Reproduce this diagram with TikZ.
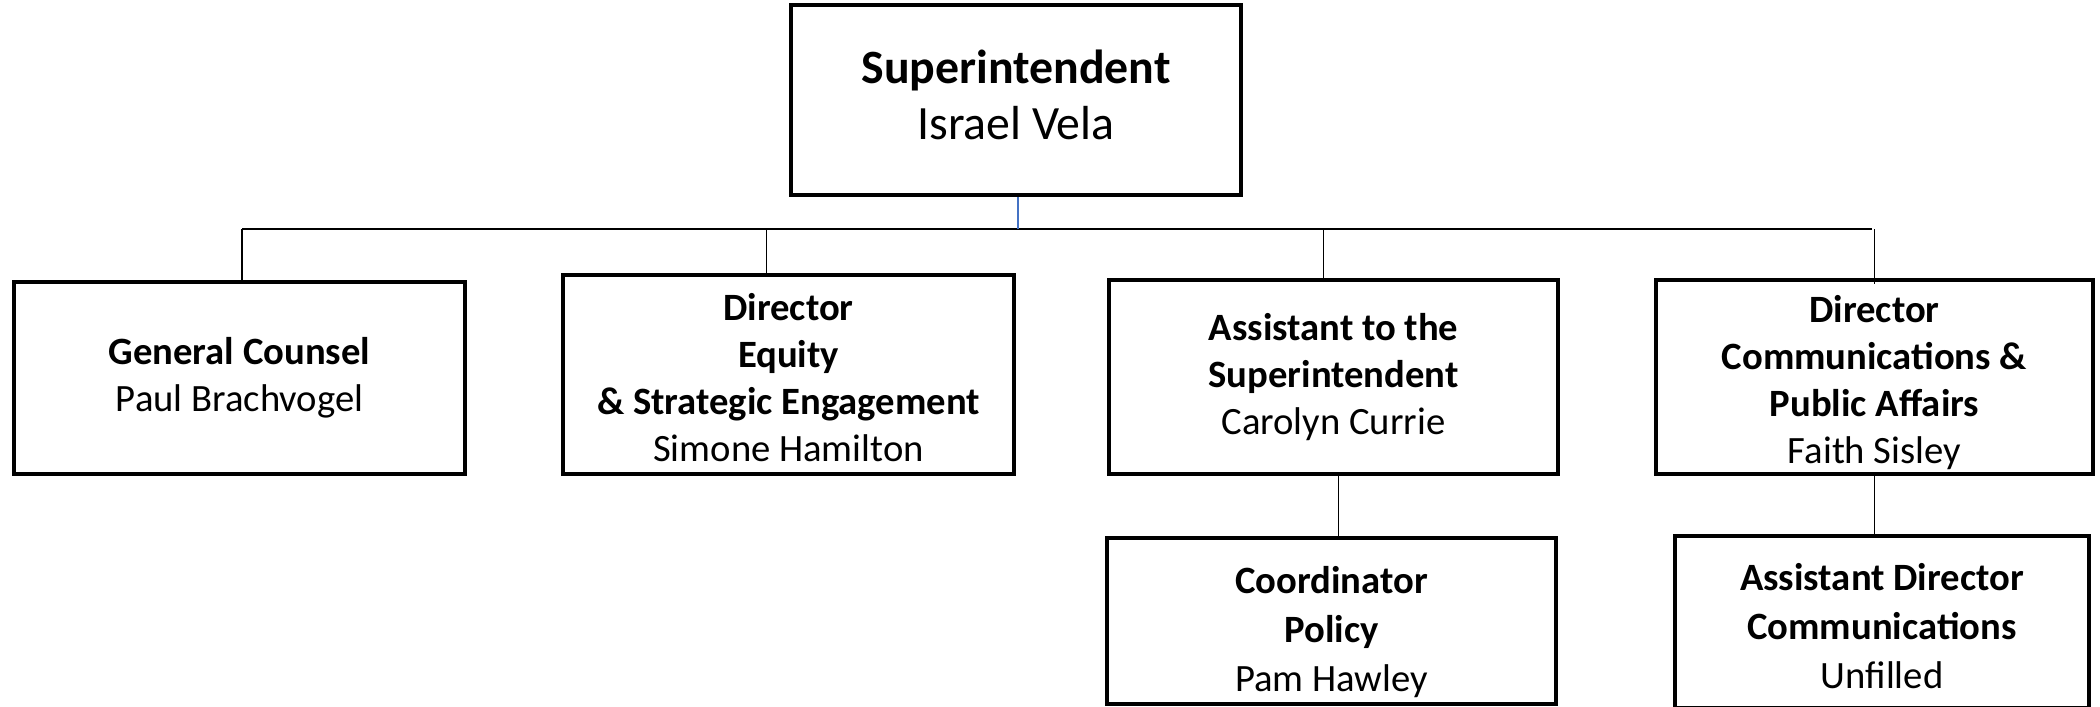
\documentclass[tikz,border=0pt]{standalone}
\usepackage{fontspec}
\setmainfont{Carlito}
\usepackage{tikz}
\definecolor{linkblue}{RGB}{68,114,196}
\newcommand{\padtop}[1]{\rule{0pt}{#1}}
\newcommand{\padbot}[1]{\rule[-#1]{0pt}{0pt}}
\tikzset{
	post/.style= {
		shape=rectangle, draw,
		line width=1.4pt,
		inner sep=0, align=center,
		font=\fontsize{11}{13.4}\selectfont
	},
	link/.style= {
		draw, line width=0.45pt
	}
}

\begin{document}
\begin{tikzpicture}
\useasboundingbox (0,0) rectangle (21,-7.07);

% top box
\node[post, minimum width=4.50cm, minimum height=1.90cm,
	font=\fontsize{13.6}{16.2}\selectfont] (sup) at (10.16,-1.00)
	{\textbf{Superintendent}\\Israel Vela\padbot{3pt}};

% second row
\node[post, minimum width=4.51cm, minimum height=1.92cm] (gc) at (2.395,-3.78)
	{\textbf{General Counsel}\\Paul Brachvogel};
\node[post, minimum width=4.51cm, minimum height=1.99cm] (eq) at (7.885,-3.745)
	{\padtop{9.5pt}\textbf{Director}\\\textbf{Equity}\\\textbf{\& Strategic Engagement}\\Simone Hamilton};
\node[post, minimum width=4.49cm, minimum height=1.94cm] (ats) at (13.335,-3.77)
	{\textbf{Assistant to the}\\\textbf{Superintendent}\\Carolyn Currie};
\node[post, minimum width=4.37cm, minimum height=1.94cm] (dc) at (18.745,-3.77)
	{\padtop{11pt}\textbf{Director}\\\textbf{Communications \&}\\\textbf{Public Affairs}\\Faith Sisley};

% third row
\node[post, minimum width=4.49cm, minimum height=1.66cm,
	font=\fontsize{11}{14}\selectfont] (cp) at (13.315,-6.21)
	{\padtop{14pt}\textbf{Coordinator}\\\textbf{Policy}\\Pam Hawley};
\node[post, minimum width=4.14cm, minimum height=1.72cm,
	font=\fontsize{11}{14}\selectfont] (adc) at (18.82,-6.22)
	{\padtop{10pt}\textbf{Assistant Director}\\\textbf{Communications}\\Unfilled};

% connectors
\coordinate (busL) at (2.42,-2.29);
\coordinate (busR) at (18.72,-2.29);
\draw[link] (busL) -- (busR);
\draw[link, draw=linkblue] ([xshift=0.2mm]sup.south) -- ([xshift=0.2mm]sup.south |- busL);
\draw[link] ([xshift=0.25mm]gc.north) -- ([xshift=0.25mm]gc.north |- busL);
\draw[link] ([xshift=-2.2mm]eq.north) -- ([xshift=-2.2mm]eq.north |- busL);
\draw[link] ([xshift=-1mm]ats.north) -- ([xshift=-1mm]ats.north |- busL);
\draw[link] ([yshift=-0.6mm]dc.north) -- (dc.north |- busR);
\draw[link] ([xshift=0.5mm]ats.south) -- ([xshift=0.5mm]ats.south |- cp.north);
\draw[link] (dc.south) -- (dc.south |- adc.north);
\end{tikzpicture}
\end{document}
